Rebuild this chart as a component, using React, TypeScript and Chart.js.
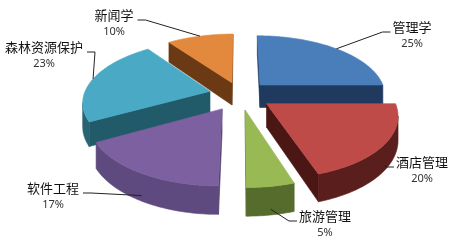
import { useEffect, useRef } from 'react';
import { Chart, registerables } from 'chart.js';

Chart.register(...registerables);

// Enrolment share by programme (percent)
const categories = ['管理学', '酒店管理', '旅游管理', '软件工程', '森林资源保护', '新闻学'];
const shares = [25, 20, 5, 17, 23, 10];

// Slice styling
const topColors = ['#4a7ebb', '#be4b48', '#98b954', '#7d60a0', '#4aa9c4', '#e3893d'];
const sideColors = ['#1f3a5e', '#5a1e1c', '#566c2c', '#5e4a7e', '#2a6474', '#6b3a14'];
const cutColors = ['#1f3a5e', '#4a1715', '#4f6228', '#4d3b68', '#215a69', '#6b3a14'];
const explode = [29, 32, 32, 34, 31, 27];
const labelSpots: [number, number][] = [
  [412, 27],
  [422, 162],
  [325, 216],
  [53, 188],
  [44, 47],
  [114, 15],
];

// 3D view parameters
const TILT = 0.474;
const DEPTH = 23;
const VIEW = 800;
const NAME_FONT = '13px "Noto Sans CJK SC", "Noto Sans", sans-serif';
const PCT_FONT = '11px "Noto Sans", "DejaVu Sans", sans-serif';

type Pt = [number, number];

function project(cx: number, cy: number, X: number, Z: number, h: number): Pt {
  const s = VIEW / (VIEW - Z);
  return [cx + X * s, cy + (TILT * Z + h) * s];
}

function signedArea(pts: Pt[]): number {
  let a = 0;
  for (let i = 0; i < pts.length; i++) {
    const p = pts[i];
    const q = pts[(i + 1) % pts.length];
    a += p[0] * q[1] - q[0] * p[1];
  }
  return a / 2;
}

function fillPoly(ctx: CanvasRenderingContext2D, pts: Pt[], color: string) {
  ctx.beginPath();
  pts.forEach((p, i) => (i ? ctx.lineTo(p[0], p[1]) : ctx.moveTo(p[0], p[1])));
  ctx.closePath();
  ctx.fillStyle = color;
  ctx.fill();
  ctx.strokeStyle = color;
  ctx.lineWidth = 0.6;
  ctx.stroke();
}

function sliceGeometry(arc: any) {
  const off = arc.options.offset || 0;
  const mid = (arc.startAngle + arc.endAngle) / 2;
  return { ox: Math.cos(mid) * off, oz: Math.sin(mid) * off, mid };
}

function drawSlice(ctx: CanvasRenderingContext2D, arc: any, i: number) {
  const { x: cx, y: cy, startAngle: a0, endAngle: a1, outerRadius: R } = arc;
  const { ox, oz } = sliceGeometry(arc);
  const steps = Math.max(2, Math.ceil((a1 - a0) / (Math.PI / 180)));
  const model: Pt[] = [[ox, oz]];
  for (let k = 0; k <= steps; k++) {
    const a = a0 + ((a1 - a0) * k) / steps;
    model.push([ox + R * Math.cos(a), oz + R * Math.sin(a)]);
  }
  const top = model.map(([X, Z]) => project(cx, cy, X, Z, 0));
  const bot = model.map(([X, Z]) => project(cx, cy, X, Z, DEPTH));
  const sgn = Math.sign(signedArea(top));
  const n = model.length;
  const quad = (a: number, b: number): Pt[] => [top[a], top[b], bot[b], bot[a]];
  const visible = (a: number, b: number) => Math.sign(signedArea(quad(a, b))) !== sgn;

  // radial cut faces
  for (const [a, b] of [[0, 1], [n - 1, 0]]) {
    if (visible(a, b)) fillPoly(ctx, quad(a, b), cutColors[i]);
  }

  // outer curved wall, merged into contiguous runs
  let run: number[] = [];
  const flush = () => {
    if (!run.length) return;
    const first = run[0];
    const last = run[run.length - 1] + 1;
    const pts: Pt[] = [];
    for (let j = first; j <= last; j++) pts.push(top[j]);
    for (let j = last; j >= first; j--) pts.push(bot[j]);
    fillPoly(ctx, pts, sideColors[i]);
    run = [];
  };
  for (let j = 1; j < n - 1; j++) {
    if (visible(j, j + 1)) run.push(j);
    else flush();
  }
  flush();

  fillPoly(ctx, top, topColors[i]);
}

const pie3d = {
  id: 'pie3d',
  beforeDatasetsDraw(chart: any) {
    const ctx: CanvasRenderingContext2D = chart.ctx;
    const arcs = chart.getDatasetMeta(0).data as any[];
    const order = arcs
      .map((arc, i) => ({ arc, i, z: sliceGeometry(arc).oz }))
      .sort((p, q) => p.z - q.z);
    ctx.save();
    for (const { arc, i } of order) drawSlice(ctx, arc, i);
    ctx.restore();
    return false;
  },
  afterDraw(chart: any) {
    const ctx: CanvasRenderingContext2D = chart.ctx;
    const arcs = chart.getDatasetMeta(0).data as any[];
    ctx.save();
    arcs.forEach((arc, i) => {
      const { ox, oz, mid } = sliceGeometry(arc);
      const R = arc.outerRadius;
      const h = Math.sin(mid) > 0.3 ? DEPTH * 0.8 : 0;
      const [ax, ay] = project(arc.x, arc.y, ox + R * Math.cos(mid), oz + R * Math.sin(mid), h);
      const [lx, ly] = labelSpots[i];
      ctx.font = NAME_FONT;
      const w = ctx.measureText(categories[i]).width;
      const toRight = lx > ax;
      const edge = toRight ? lx - w / 2 - 2 : lx + w / 2 + 4;
      const elbow = toRight ? edge - 8 : edge + 8;
      const yl = ly + 5;
      ctx.beginPath();
      ctx.moveTo(ax, ay);
      ctx.lineTo(elbow, yl);
      ctx.lineTo(edge, yl);
      ctx.strokeStyle = '#222';
      ctx.lineWidth = 1;
      ctx.stroke();

      ctx.textAlign = 'center';
      ctx.textBaseline = 'middle';
      ctx.fillStyle = '#111';
      ctx.fillText(categories[i], lx, ly);
      ctx.font = PCT_FONT;
      ctx.fillStyle = '#333';
      ctx.fillText(`${shares[i]}%`, lx, ly + 17);
    });
    ctx.restore();
  },
};

export default function App() {
  const ref = useRef<HTMLCanvasElement>(null);
  useEffect(() => {
    if (!ref.current) return;
    const chart = new Chart(ref.current, {
      type: 'pie',
      data: {
        labels: categories,
        datasets: [
          {
            data: shares,
            backgroundColor: topColors,
            borderWidth: 0,
            offset: explode,
            radius: 126,
          } as any,
        ],
      },
      options: {
        responsive: false,
        animation: false,
        events: [],
        layout: { padding: { left: 24, right: 0, top: 0, bottom: 63 } },
        plugins: { legend: { display: false }, tooltip: { enabled: false } },
      },
      plugins: [pie3d],
    });
    return () => chart.destroy();
  }, []);
  return (
    <div style={{ position: 'absolute', left: 0, top: 0, width: 456, height: 252, background: '#fff' }}>
      <canvas ref={ref} width={456} height={252} style={{ display: 'block' }} />
    </div>
  );
}
